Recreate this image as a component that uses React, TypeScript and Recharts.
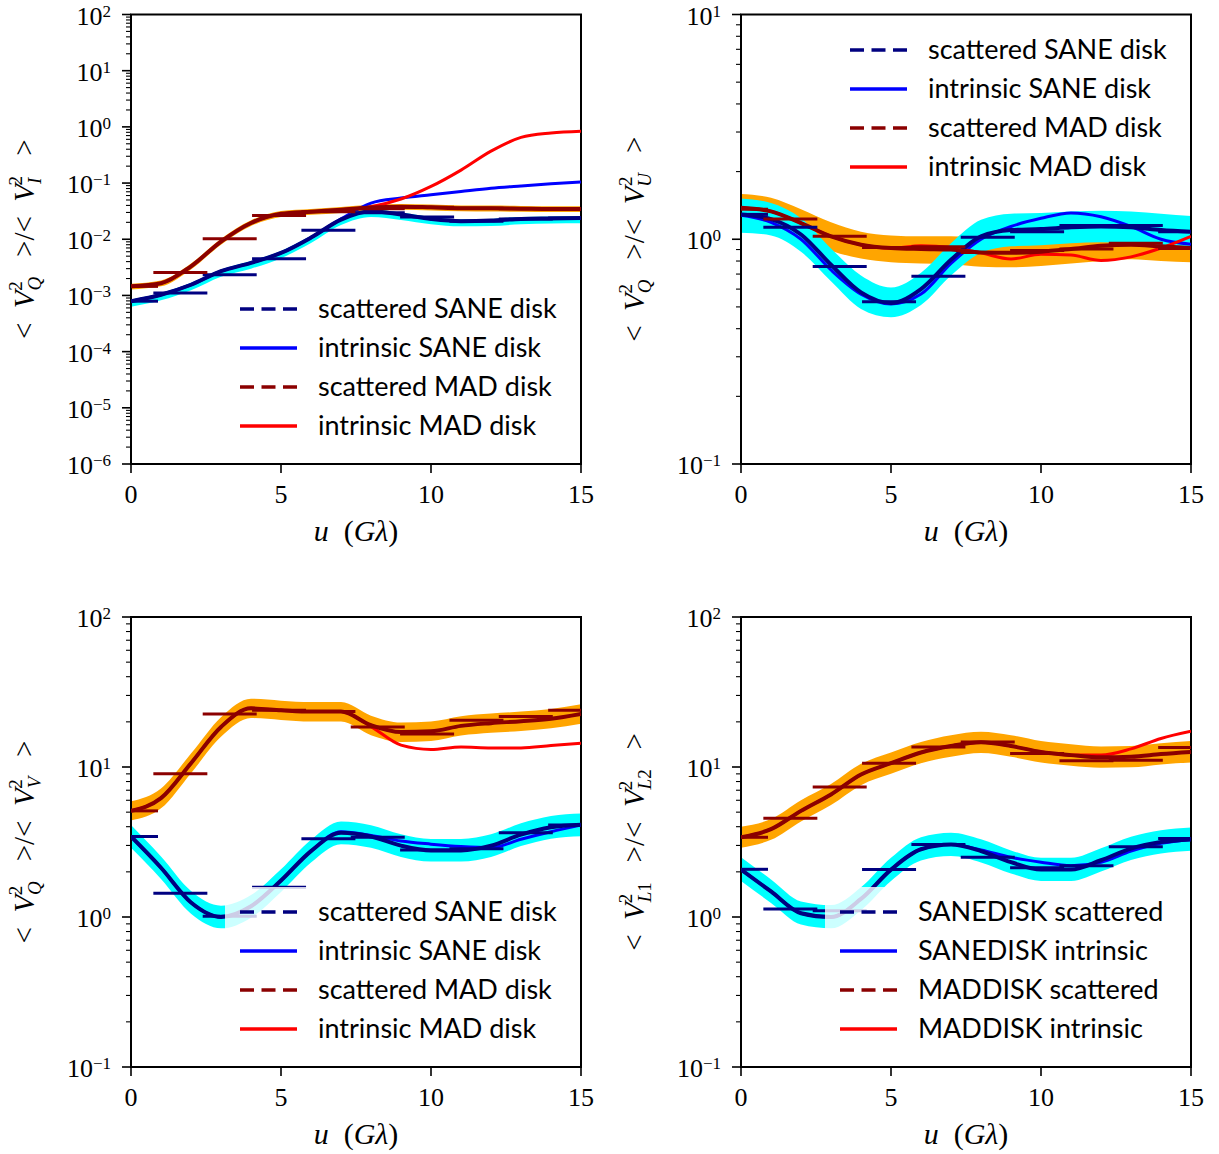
import React from 'react'
import { ComposedChart, Area, Line, Scatter, ErrorBar, XAxis, YAxis, ReferenceArea, Legend } from 'recharts'

const SERIF = '"Liberation Serif", "DejaVu Serif", serif'
const SANS = 'Lato, "Noto Sans", sans-serif'

const CYAN = '#00ffff'
const ORANGE = '#ffa500'
const NAVY = '#000080'
const BLUE = '#0000ff'
const DARKRED = '#8b0000'
const RED = '#ff0000'

// baseline u (G lambda) of the smoothed curves
const U = [0, 1, 2, 3, 4, 5, 6, 7, 8, 9, 10, 11, 12, 13, 14, 15]
// centres of the binned averages, each drawn with a horizontal bar of +-BIN_HALF
const BIN_U = [0, 1.645, 3.29, 4.935, 6.58, 8.225, 9.87, 11.515, 13.16, 14.805]
const BIN_HALF = 0.9
const U_MAX = 15

const X_TICKS = [0, 5, 10, 15]

// ---- panel 1: <V_Q^2>/<V_I^2>
const QI_SANE_SCAT = [7.9e-4, 1.03e-3, 1.55e-3, 2.7e-3, 3.8e-3, 5.7e-3, 1.07e-2, 2.24e-2, 3.16e-2, 2.75e-2, 2.3e-2, 2.1e-2, 2.15e-2, 2.3e-2, 2.35e-2, 2.4e-2]
const QI_SANE_INTR = [7.9e-4, 1.03e-3, 1.55e-3, 2.7e-3, 3.8e-3, 5.7e-3, 1.07e-2, 2.3e-2, 4.4e-2, 5.4e-2, 6.2e-2, 7.1e-2, 8.1e-2, 8.9e-2, 9.7e-2, 0.104]
const QI_SANE_LO = [6.3e-4, 8.2e-4, 1.24e-3, 2.16e-3, 3.0e-3, 4.6e-3, 8.6e-3, 1.8e-2, 2.5e-2, 2.2e-2, 1.85e-2, 1.7e-2, 1.72e-2, 1.85e-2, 1.9e-2, 1.92e-2]
const QI_SANE_HI = [8.5e-4, 1.1e-3, 1.68e-3, 2.9e-3, 4.1e-3, 6.2e-3, 1.15e-2, 2.4e-2, 3.4e-2, 3.0e-2, 2.5e-2, 2.27e-2, 2.3e-2, 2.5e-2, 2.55e-2, 2.6e-2]
const QI_MAD_SCAT = [1.45e-3, 1.65e-3, 3.3e-3, 9.1e-3, 1.95e-2, 2.84e-2, 3.1e-2, 3.34e-2, 3.67e-2, 3.8e-2, 3.7e-2, 3.58e-2, 3.55e-2, 3.5e-2, 3.45e-2, 3.45e-2]
const QI_MAD_INTR = [1.45e-3, 1.65e-3, 3.3e-3, 9.1e-3, 1.95e-2, 2.84e-2, 3.1e-2, 3.34e-2, 3.8e-2, 5.2e-2, 8.7e-2, 0.17, 0.37, 0.65, 0.78, 0.84]
const QI_MAD_LO = [1.28e-3, 1.45e-3, 2.9e-3, 8.0e-3, 1.72e-2, 2.5e-2, 2.73e-2, 2.94e-2, 3.2e-2, 3.35e-2, 3.25e-2, 3.15e-2, 3.12e-2, 3.08e-2, 3.04e-2, 3.04e-2]
const QI_MAD_HI = [1.62e-3, 1.85e-3, 3.7e-3, 1.02e-2, 2.18e-2, 3.18e-2, 3.47e-2, 3.74e-2, 4.1e-2, 4.25e-2, 4.15e-2, 4.0e-2, 3.98e-2, 3.92e-2, 3.86e-2, 3.86e-2]
const QI_SANE_BINS = [7.9e-4, 1.1e-3, 2.34e-3, 4.5e-3, 1.45e-2, 2.95e-2, 2.5e-2, 2.1e-2, 2.3e-2, 2.4e-2]
const QI_MAD_BINS = [1.45e-3, 2.57e-3, 1.02e-2, 2.65e-2, 3.1e-2, 3.5e-2, 3.7e-2, 3.55e-2, 3.5e-2, 3.45e-2]

// ---- panel 2: <V_Q^2>/<V_U^2>
const QU_SANE_SCAT = [1.29, 1.23, 1.05, 0.77, 0.58, 0.52, 0.6, 0.81, 1.03, 1.1, 1.11, 1.13, 1.14, 1.13, 1.1, 1.08]
const QU_SANE_INTR = [1.28, 1.19, 1.0, 0.73, 0.57, 0.515, 0.57, 0.78, 1.0, 1.14, 1.24, 1.31, 1.26, 1.14, 1.0, 0.95]
const QU_SANE_LO = [1.07, 1.04, 0.88, 0.65, 0.49, 0.45, 0.51, 0.69, 0.87, 0.93, 0.94, 0.96, 0.97, 0.96, 0.94, 0.92]
const QU_SANE_HI = [1.52, 1.45, 1.24, 0.91, 0.69, 0.61, 0.71, 0.96, 1.22, 1.3, 1.31, 1.33, 1.34, 1.33, 1.3, 1.27]
const QU_MAD_SCAT = [1.38, 1.33, 1.18, 1.03, 0.946, 0.914, 0.905, 0.9, 0.873, 0.87, 0.88, 0.905, 0.935, 0.946, 0.93, 0.914]
const QU_MAD_INTR = [1.38, 1.33, 1.18, 1.03, 0.946, 0.914, 0.935, 0.92, 0.87, 0.817, 0.857, 0.85, 0.805, 0.835, 0.914, 1.03]
const QU_MAD_LO = [1.19, 1.15, 1.02, 0.89, 0.82, 0.79, 0.78, 0.775, 0.755, 0.75, 0.76, 0.78, 0.8, 0.815, 0.8, 0.79]
const QU_MAD_HI = [1.59, 1.53, 1.36, 1.19, 1.08, 1.04, 1.03, 1.03, 1.0, 0.99, 1.0, 1.03, 1.06, 1.08, 1.07, 1.05]
const QU_SANE_BINS = [1.29, 1.13, 0.757, 0.527, 0.684, 1.02, 1.08, 1.15, 1.15, 1.08]
const QU_MAD_BINS = [1.36, 1.23, 1.03, 0.92, 0.925, 0.873, 0.89, 0.905, 0.96, 0.91]

// ---- panel 3: <V_Q^2>/<V_V^2>
const QV_SANE_SCAT = [3.44, 2.13, 1.25, 1.0, 1.18, 1.75, 2.75, 3.64, 3.44, 2.99, 2.78, 2.78, 2.99, 3.54, 3.96, 4.12]
const QV_SANE_INTR = [3.44, 2.13, 1.25, 1.0, 1.18, 1.75, 2.75, 3.7, 3.5, 3.21, 3.06, 2.95, 2.9, 3.3, 3.7, 4.1]
const QV_SANE_LO = [2.89, 1.79, 1.05, 0.84, 0.99, 1.47, 2.31, 3.06, 2.89, 2.51, 2.34, 2.34, 2.51, 2.97, 3.33, 3.46]
const QV_SANE_HI = [4.1, 2.53, 1.49, 1.19, 1.4, 2.08, 3.27, 4.33, 4.09, 3.56, 3.31, 3.31, 3.56, 4.21, 4.71, 4.9]
const QV_MAD_SCAT = [5.1, 6.2, 10.6, 18.5, 24.6, 23.9, 23.4, 23.4, 19.0, 17.1, 17.3, 18.8, 19.6, 20.2, 21.0, 22.6]
const QV_MAD_INTR = [5.1, 6.2, 10.6, 18.5, 24.6, 23.9, 23.4, 23.4, 18.6, 14.0, 13.1, 13.6, 13.4, 13.4, 13.9, 14.4]
const QV_MAD_LO = [4.4, 5.3, 9.1, 15.9, 21.2, 20.6, 20.1, 20.1, 16.3, 14.7, 14.9, 16.2, 16.9, 17.4, 18.1, 19.4]
const QV_MAD_HI = [5.9, 7.2, 12.3, 21.5, 28.5, 27.7, 27.1, 27.1, 22.0, 19.8, 20.1, 21.8, 22.7, 23.4, 24.4, 26.2]
const QV_SANE_BINS = [3.44, 1.44, 1.01, 1.58, 3.32, 3.4, 2.8, 2.85, 3.64, 4.1]
const QV_MAD_BINS = [5.1, 9.0, 22.6, 23.9, 23.4, 18.5, 16.6, 20.5, 21.7, 23.9]

// ---- panel 4: <V_L1^2>/<V_L2^2>
const LL_SANE_SCAT = [2.07, 1.48, 1.06, 1.0, 1.32, 2.07, 2.83, 3.04, 2.75, 2.32, 2.07, 2.07, 2.39, 2.86, 3.16, 3.29]
const LL_SANE_INTR = [2.07, 1.48, 1.06, 1.0, 1.32, 2.07, 2.83, 3.04, 2.8, 2.5, 2.32, 2.2, 2.32, 2.75, 3.1, 3.29]
const LL_SANE_LO = [1.74, 1.24, 0.89, 0.84, 1.11, 1.74, 2.38, 2.55, 2.31, 1.95, 1.74, 1.74, 2.01, 2.4, 2.65, 2.76]
const LL_SANE_HI = [2.5, 1.78, 1.27, 1.2, 1.58, 2.48, 3.4, 3.65, 3.3, 2.78, 2.48, 2.48, 2.87, 3.43, 3.79, 3.95]
const LL_MAD_SCAT = [3.4, 3.85, 5.1, 6.56, 8.9, 10.6, 12.5, 13.8, 14.6, 13.8, 12.6, 12.0, 11.6, 11.7, 12.2, 12.6]
const LL_MAD_INTR = [3.4, 3.85, 5.1, 6.56, 8.9, 10.6, 12.5, 13.8, 14.6, 13.8, 12.6, 12.0, 12.0, 13.2, 15.5, 17.3]
const LL_MAD_LO = [2.9, 3.27, 4.34, 5.58, 7.57, 9.0, 10.6, 11.7, 12.4, 11.7, 10.7, 10.2, 9.9, 9.95, 10.4, 10.7]
const LL_MAD_HI = [4.0, 4.5, 6.0, 7.7, 10.5, 12.5, 14.7, 16.3, 17.2, 16.3, 14.9, 14.2, 13.7, 13.8, 14.4, 14.9]
const LL_SANE_BINS = [2.08, 1.13, 1.1, 2.07, 3.04, 2.5, 2.13, 2.2, 2.94, 3.34]
const LL_MAD_BINS = [3.4, 4.56, 7.35, 10.6, 13.6, 14.7, 12.3, 11.0, 11.1, 13.5]

const LEGEND_DISK = ['scattered SANE disk', 'intrinsic SANE disk', 'scattered MAD disk', 'intrinsic MAD disk']
const LEGEND_UPPER = ['SANEDISK scattered', 'SANEDISK intrinsic', 'MADDISK scattered', 'MADDISK intrinsic']
const LEGEND_COLORS = [NAVY, BLUE, DARKRED, RED]

const EXPS_QI = [-6, -5, -4, -3, -2, -1, 0, 1, 2]
const EXPS_QU = [-1, 0, 1]
const EXPS_WIDE = [-1, 0, 1, 2]

function buildRows(sc: number[], si: number[], slo: number[], shi: number[], mc: number[], mi: number[], mlo: number[], mhi: number[]) {
  return U.map((u, i) => ({
    u,
    sc: sc[i],
    si: si[i],
    mc: mc[i],
    mi: mi[i],
    sb: [slo[i], shi[i]],
    mb: [mlo[i], mhi[i]],
  }))
}

// bars are cut at the axis limits, like the clipped errorbars of the original
function buildBins(vals: number[]) {
  return BIN_U.map((u, i) => ({
    u,
    v: vals[i],
    e: [Math.min(BIN_HALF, u), Math.min(BIN_HALF, U_MAX - u)],
  }))
}

// major decades plus the 2..9 minor ticks inside the axis range
function logTicks(exps: number[]) {
  const out: number[] = []
  exps.forEach((e, i) => {
    out.push(Math.pow(10, e))
    if (i < exps.length - 1) {
      for (let m = 2; m <= 9; m++) out.push(m * Math.pow(10, e))
    }
  })
  return out
}

const SUB_W: Record<string, number> = { Q: 14, I: 8, U: 13, V: 12, L1: 21, L2: 21 }

function VTerm({ sub }: { sub: string }) {
  const w = SUB_W[sub] ?? 12
  return (
    <>
      <tspan fontStyle="italic">V</tspan>
      <tspan fontStyle="italic" fontSize={19} dy={7}>{sub[0]}</tspan>
      {sub.length > 1 && <tspan fontSize={19}>{sub.slice(1)}</tspan>}
      <tspan fontSize={19} dx={-w} dy={-19}>2</tspan>
      <tspan dy={12} dx={Math.max(0, w - 10)}>{'\u2009'}</tspan>
    </>
  )
}

function YLabel(props: any) {
  const { viewBox, num, den } = props
  const cy = viewBox.y + viewBox.height / 2
  return (
    <text transform={`translate(34,${cy}) rotate(-90)`} textAnchor="middle" fontFamily={SERIF} fontSize={29} fill="#000">
      <tspan>{'<\u2002'}</tspan>
      <VTerm sub={num} />
      <tspan>{'\u2002>/<\u2002'}</tspan>
      <VTerm sub={den} />
      <tspan>{'\u2002>'}</tspan>
    </text>
  )
}

function XLabel(props: any) {
  const { viewBox } = props
  const cx = viewBox.x + viewBox.width / 2
  return (
    <text x={cx} y={viewBox.y + 77} textAnchor="middle" fontFamily={SERIF} fontSize={30} fill="#000">
      <tspan fontStyle="italic">u</tspan>
      <tspan>{'\u2002('}</tspan>
      <tspan fontStyle="italic">G</tspan>
      <tspan fontStyle="italic">λ</tspan>
      <tspan>)</tspan>
    </text>
  )
}

function YTick(props: any) {
  const { x, y, payload } = props
  const e = Math.log10(payload.value)
  const n = Math.round(e)
  if (Math.abs(e - n) > 1e-6) {
    return <line x1={x - 5} x2={x} y1={y} y2={y} stroke="#000" strokeWidth={1.1} />
  }
  return (
    <g>
      <line x1={x - 9} x2={x} y1={y} y2={y} stroke="#000" strokeWidth={1.6} />
      <text x={x - 20} y={y + 10} textAnchor="end" fontFamily={SERIF} fontSize={26} fill="#000">
        10<tspan dy={-8} fontSize={17}>{n < 0 ? `\u2212${-n}` : `${n}`}</tspan>
      </text>
    </g>
  )
}

function XTick(props: any) {
  const { x, y, payload } = props
  return (
    <g>
      <line x1={x} x2={x} y1={y} y2={y + 9} stroke="#000" strokeWidth={1.6} />
      <text x={x} y={y + 39} textAnchor="middle" fontFamily={SERIF} fontSize={26} fill="#000">
        {payload.value}
      </text>
    </g>
  )
}

const noShape = () => <g />

function legendContent(labels: string[]) {
  return () => (
    <svg width={360} height={170} style={{ display: 'block' }}>
      {labels.map((t, i) => {
        const cy = 25 + i * 39
        return (
          <g key={t}>
            <line x1={15} x2={72} y1={cy} y2={cy} stroke={LEGEND_COLORS[i]} strokeWidth={3.5} strokeDasharray={i % 2 === 0 ? '14 7.5' : undefined} />
            <text x={93} y={cy + 9} fontFamily={SANS} fontSize={27} fill="#000">{t}</text>
          </g>
        )
      })}
    </svg>
  )
}

interface PanelProps {
  left: number
  top: number
  marginTop: number
  marginBottom: number
  domain: [number, number]
  exps: number[]
  num: string
  den: string
  rows: any[]
  saneBins: any[]
  madBins: any[]
  legendLabels: string[]
  legendLeft: number
  legendTop: number
}

function Panel(p: PanelProps) {
  return (
    <div style={{ position: 'absolute', left: p.left, top: p.top }}>
      <ComposedChart
        width={605}
        height={550}
        data={p.rows}
        margin={{ top: p.marginTop, right: 24, bottom: p.marginBottom, left: 11 }}
      >
        <XAxis
          dataKey="u"
          type="number"
          domain={[0, U_MAX]}
          ticks={X_TICKS}
          interval={0}
          allowDataOverflow
          axisLine={false}
          tickLine={false}
          tickSize={0}
          tickMargin={0}
          height={60}
          tick={(t: any) => <XTick {...t} />}
          label={<XLabel />}
        />
        <YAxis
          type="number"
          scale="log"
          domain={p.domain}
          ticks={logTicks(p.exps)}
          interval={0}
          allowDataOverflow
          axisLine={false}
          tickLine={false}
          tickSize={0}
          tickMargin={0}
          width={120}
          tick={(t: any) => <YTick {...t} />}
          label={<YLabel num={p.num} den={p.den} />}
        />
        <Area dataKey="mb" type="monotone" stroke="none" fill={ORANGE} fillOpacity={1} isAnimationActive={false} />
        <Area dataKey="sb" type="monotone" stroke="none" fill={CYAN} fillOpacity={1} isAnimationActive={false} />
        <Line dataKey="si" type="monotone" stroke={BLUE} strokeWidth={3} dot={false} isAnimationActive={false} />
        <Line dataKey="mi" type="monotone" stroke={RED} strokeWidth={3} dot={false} isAnimationActive={false} />
        <Line dataKey="sc" type="monotone" stroke={NAVY} strokeWidth={4} dot={false} isAnimationActive={false} />
        <Line dataKey="mc" type="monotone" stroke={DARKRED} strokeWidth={4} dot={false} isAnimationActive={false} />
        <Scatter data={p.saneBins} dataKey="v" shape={noShape} isAnimationActive={false}>
          <ErrorBar dataKey="e" direction="x" width={0} stroke={NAVY} strokeWidth={3} />
        </Scatter>
        <Scatter data={p.madBins} dataKey="v" shape={noShape} isAnimationActive={false}>
          <ErrorBar dataKey="e" direction="x" width={0} stroke={DARKRED} strokeWidth={3} />
        </Scatter>
        <ReferenceArea x1={0} x2={U_MAX} y1={p.domain[0]} y2={p.domain[1]} fill="none" stroke="#000" strokeWidth={2} fillOpacity={0} />
        <Legend
          layout="vertical"
          align="center"
          verticalAlign="middle"
          content={legendContent(p.legendLabels)}
          wrapperStyle={{
            left: p.legendLeft,
            top: p.legendTop,
            width: 350,
            height: 168,
            background: 'rgba(255,255,255,0.8)',
            borderRadius: 4,
          }}
        />
      </ComposedChart>
    </div>
  )
}

export default function App() {
  return (
    <div style={{ position: 'absolute', left: 0, top: 0, width: 1219, height: 1154, background: '#fff' }}>
      <Panel
        left={0}
        top={0}
        marginTop={14.5}
        marginBottom={26}
        domain={[1e-6, 1e2]}
        exps={EXPS_QI}
        num="Q"
        den="I"
        rows={buildRows(QI_SANE_SCAT, QI_SANE_INTR, QI_SANE_LO, QI_SANE_HI, QI_MAD_SCAT, QI_MAD_INTR, QI_MAD_LO, QI_MAD_HI)}
        saneBins={buildBins(QI_SANE_BINS)}
        madBins={buildBins(QI_MAD_BINS)}
        legendLabels={LEGEND_DISK}
        legendLeft={225}
        legendTop={284}
      />
      <Panel
        left={610}
        top={0}
        marginTop={14.5}
        marginBottom={26}
        domain={[0.1, 10]}
        exps={EXPS_QU}
        num="Q"
        den="U"
        rows={buildRows(QU_SANE_SCAT, QU_SANE_INTR, QU_SANE_LO, QU_SANE_HI, QU_MAD_SCAT, QU_MAD_INTR, QU_MAD_LO, QU_MAD_HI)}
        saneBins={buildBins(QU_SANE_BINS)}
        madBins={buildBins(QU_MAD_BINS)}
        legendLabels={LEGEND_DISK}
        legendLeft={225}
        legendTop={25}
      />
      <Panel
        left={0}
        top={602}
        marginTop={15}
        marginBottom={25}
        domain={[0.1, 100]}
        exps={EXPS_WIDE}
        num="Q"
        den="V"
        rows={buildRows(QV_SANE_SCAT, QV_SANE_INTR, QV_SANE_LO, QV_SANE_HI, QV_MAD_SCAT, QV_MAD_INTR, QV_MAD_LO, QV_MAD_HI)}
        saneBins={buildBins(QV_SANE_BINS)}
        madBins={buildBins(QV_MAD_BINS)}
        legendLabels={LEGEND_DISK}
        legendLeft={225}
        legendTop={285}
      />
      <Panel
        left={610}
        top={602}
        marginTop={15}
        marginBottom={25}
        domain={[0.1, 100]}
        exps={EXPS_WIDE}
        num="L1"
        den="L2"
        rows={buildRows(LL_SANE_SCAT, LL_SANE_INTR, LL_SANE_LO, LL_SANE_HI, LL_MAD_SCAT, LL_MAD_INTR, LL_MAD_LO, LL_MAD_HI)}
        saneBins={buildBins(LL_SANE_BINS)}
        madBins={buildBins(LL_MAD_BINS)}
        legendLabels={LEGEND_UPPER}
        legendLeft={215}
        legendTop={285}
      />
    </div>
  )
}
